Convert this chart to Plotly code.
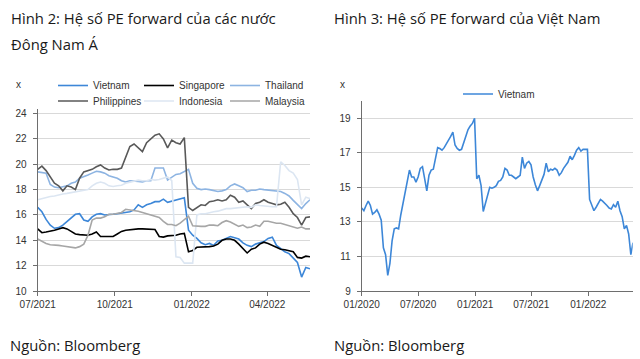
import plotly.graph_objects as go
import pandas as pd

W, H = 640, 359

# ---------------- Data: left chart (every 5 days from 07/2021) ----------------
left_dates = pd.date_range("2021-07-01", periods=66, freq="5D")

vietnam_l = [16.6, 16.25, 15.65, 15.2, 14.95, 15.0, 15.2, 15.5, 15.75, 16.05,
             16.1, 15.6, 15.5, 15.85, 16.05, 16.1, 16.0, 16.0, 16.05, 16.1,
             16.15, 16.25, 16.25, 16.4, 16.8, 16.6, 16.8, 16.9, 17.05, 17.05,
             17.25, 17.0, 17.1, 17.2, 17.25, 17.35, 14.8, 14.4, 14.15, 13.8,
             13.65, 13.75, 13.6, 13.95, 14.0, 14.15, 14.3, 14.2, 14.1, 13.8,
             13.6, 13.5, 13.7, 13.8, 13.9, 14.15, 14.25, 13.6, 13.35, 13.1,
             12.95, 12.6, 12.25, 11.1, 11.85, 11.75]

singapore_l = [14.9, 14.6, 14.65, 14.7, 14.8, 14.9, 15.0, 14.9, 14.7, 14.5,
               14.45, 14.4, 14.4, 14.5, 14.65, 14.3, 14.3, 14.25, 14.3, 14.5,
               14.7, 14.8, 14.85, 14.9, 14.9, 14.9, 14.9, 14.85, 14.85, 14.3,
               14.25, 14.35, 14.35, 14.4, 14.5, 14.55, 13.1, 13.2, 13.45, 13.45,
               13.5, 13.5, 13.55, 13.7, 14.0, 14.1, 14.1, 14.0, 13.7, 13.35,
               13.0, 13.3, 13.4, 13.7, 13.85, 13.75, 13.6, 13.5, 13.3, 13.25,
               13.2, 13.1, 12.65, 12.6, 12.75, 12.7]

thailand_l = [19.4, 19.35, 19.3, 18.4, 18.2, 18.15, 18.2, 18.3, 18.5, 18.6,
              18.9, 19.0, 19.15, 19.3, 19.45, 19.4, 19.3, 19.1, 19.0, 18.9,
              18.7, 18.6, 18.7, 18.7, 18.65, 18.6, 18.7, 18.7, 19.7, 19.7,
              19.7, 18.75, 19.0, 19.2, 19.25, 19.4, 19.6, 18.5, 18.1, 18.0,
              18.05, 18.0, 17.95, 17.85, 17.9, 18.0, 18.3, 18.45, 18.3, 18.15,
              17.85, 17.95, 17.95, 18.05, 18.0, 17.95, 17.95, 17.85, 17.85, 17.7,
              17.5, 17.15, 16.8, 16.5, 16.9, 17.2]

philippines_l = [19.6, 19.85, 19.5, 19.0, 18.5, 18.3, 17.9, 18.3, 18.2, 18.0,
                 18.9, 19.4, 19.5, 19.6, 19.8, 19.95, 19.7, 19.55, 19.6, 19.6,
                 19.7, 20.5, 21.4, 21.6, 21.3, 21.0, 21.7, 22.0, 22.3, 22.4,
                 22.0, 21.3, 21.9, 21.7, 21.6, 22.1, 16.6, 16.35, 16.6, 16.8,
                 16.75, 17.05, 17.1, 17.2, 17.1, 17.2, 17.55, 17.4, 17.0, 17.1,
                 16.8, 16.5, 16.9, 17.0, 17.2, 17.0, 16.9, 16.8, 16.85, 17.0,
                 16.6, 16.1, 15.8, 15.2, 15.8, 15.85]

indonesia_l = [17.2, 17.3, 17.35, 17.45, 17.5, 17.6, 17.65, 17.7, 17.75, 17.8,
               17.85, 17.9, 18.0, 18.3, 18.5, 18.6, 18.5, 18.3, 18.25, 18.3,
               18.35, 18.5, 18.6, 18.7, 18.75, 18.7, 18.7, 18.8, 18.75, 18.8,
               18.9, 19.0, 18.7, 12.7, 12.65, 12.2, 12.2, 12.2, 16.0, 16.1,
               16.1, 16.2, 16.25, 16.3, 16.4, 16.5, 16.5, 16.55, 16.6, 16.6,
               16.65, 16.6, 16.8, 16.75, 16.7, 16.7, 16.65, 16.65, 20.2, 19.9,
               19.5, 19.3, 18.8, 16.8, 17.4, 17.3]

malaysia_l = [14.1, 13.9, 13.75, 13.65, 13.65, 13.6, 13.55, 13.5, 13.45, 13.4,
              13.5, 13.7, 14.4, 15.6, 15.75, 15.75, 15.85, 16.05, 16.05, 16.1,
              16.2, 16.45, 16.4, 16.4, 16.3, 16.2, 16.1, 16.0, 15.9, 15.8,
              15.5, 15.25, 15.25, 15.15, 15.35, 15.65, 15.9, 15.15, 15.1, 15.1,
              15.1, 15.2, 15.2, 15.15, 15.4, 15.55, 15.45, 15.25, 15.1, 15.2,
              15.0, 15.05, 15.2, 15.1, 15.5, 15.5, 15.4, 15.35, 15.35, 15.25,
              15.1, 15.05, 14.95, 15.05, 14.9, 14.9]

# ---------------- Data: right chart (weekly from 01/2020) ----------------
right_dates = pd.date_range("2020-01-01", periods=126, freq="7D")

vietnam_r = [13.8, 13.65, 13.95, 14.2, 13.95, 13.45, 13.55, 13.7, 13.45, 13.1,
             11.5, 11.1, 9.9, 10.6, 11.9, 12.6, 12.65, 12.6, 13.4, 14.0,
             14.75, 15.3, 16.0, 15.6, 15.6, 15.3, 15.6, 16.1, 16.2, 15.5,
             14.8, 15.7, 16.0, 16.05, 16.8, 17.3, 17.25, 17.15, 17.3, 17.5,
             17.75, 17.95, 18.2, 17.45, 17.25, 17.15, 17.2, 17.6, 17.9, 18.35,
             18.55, 18.7, 19.0, 15.5, 15.7, 15.1, 13.6, 14.1, 14.6, 15.0,
             14.95, 15.0, 15.1, 15.35, 15.4, 15.6, 16.1, 16.0, 15.7, 15.7,
             15.6, 15.5, 15.6, 15.7, 16.75, 16.1, 16.4, 16.5, 16.3, 15.6,
             15.15, 14.8, 15.1, 15.4, 15.75, 16.4, 15.9, 16.05, 16.0, 16.1,
             16.0, 15.7, 15.85, 16.1, 16.3, 16.45, 16.8, 16.6, 16.85, 17.15,
             17.3, 17.1, 17.2, 17.2, 17.2, 14.3, 13.95, 13.65, 13.85, 14.05,
             14.3, 14.2, 14.1, 13.95, 13.8, 13.75, 14.0, 13.85, 14.2, 13.65,
             13.3, 12.6, 12.8, 12.3, 11.1, 11.8]

left_tick_vals = ["2021-07-01", "2021-10-01", "2022-01-01", "2022-04-01"]
left_tick_text = ["07/2021", "10/2021", "01/2022", "04/2022"]
right_tick_vals = ["2020-01-01", "2020-07-01", "2021-01-01", "2021-07-01", "2022-01-01"]
right_tick_text = ["01/2020", "07/2020", "01/2021", "07/2021", "01/2022"]
left_y_ticks = [10, 12, 14, 16, 18, 20, 22, 24]
right_y_ticks = [9, 11, 13, 15, 17, 19]

# ---------------- Figure ----------------
fig = go.Figure()

left_series = [
    ("Vietnam", vietnam_l, "#3D87D8", "legend"),
    ("Singapore", singapore_l, "#000000", "legend"),
    ("Thailand", thailand_l, "#8DB4E2", "legend"),
    ("Philippines", philippines_l, "#595959", "legend2"),
    ("Indonesia", indonesia_l, "#DCE6F2", "legend2"),
    ("Malaysia", malaysia_l, "#A6A6A6", "legend2"),
]
for name, vals, col, lg in left_series:
    fig.add_trace(go.Scatter(x=left_dates, y=vals, mode="lines", name=name,
                             line=dict(color=col, width=1.6), legend=lg,
                             xaxis="x", yaxis="y"))

fig.add_trace(go.Scatter(x=right_dates, y=vietnam_r, mode="lines", name="Vietnam",
                         line=dict(color="#3D87D8", width=1.6), legend="legend3",
                         xaxis="x2", yaxis="y2"))

def px(v):
    return v / W

def py(v):
    return 1 - v / H

axis_common = dict(showline=True, linecolor="#6E6E6E", linewidth=1,
                   ticks="outside", ticklen=4, tickcolor="#6E6E6E", automargin=False,
                   tickfont=dict(family="Liberation Sans", size=10, color="#333333"))

legend_font = dict(family="Liberation Sans", size=10, color="#333333")

fig.update_layout(
    width=W, height=H,
    margin=dict(l=0, r=0, t=0, b=0, autoexpand=False),
    paper_bgcolor="white", plot_bgcolor="white",
    xaxis=dict(domain=[px(37.7), px(310)], type="date",
               range=["2021-07-01", "2022-05-22"],
               tickvals=left_tick_vals, ticktext=left_tick_text,
               showgrid=False, anchor="y", **axis_common),
    yaxis=dict(domain=[py(291), py(108.5)], range=[10, 24.4],
               tickvals=left_y_ticks, showgrid=True, gridcolor="#D9D9D9",
               gridwidth=1, anchor="x", ticklabelstandoff=4, **axis_common),
    xaxis2=dict(domain=[px(361.7), px(632.7)], type="date",
                range=["2020-01-01", "2022-05-24"],
                tickvals=right_tick_vals, ticktext=right_tick_text,
                showgrid=False, anchor="y2", **axis_common),
    yaxis2=dict(domain=[py(291), py(101)], range=[9, 20],
                tickvals=right_y_ticks, showgrid=True, gridcolor="#D9D9D9",
                gridwidth=1, anchor="x2", ticklabelstandoff=4, **axis_common),
    showlegend=True,
    legend=dict(orientation="h", x=px(53), y=py(85.5), xanchor="left", yanchor="middle",
                entrywidth=41, entrywidthmode="pixels", font=legend_font,
                bgcolor="rgba(0,0,0,0)", itemwidth=30),
    legend2=dict(orientation="h", x=px(53), y=py(101), xanchor="left", yanchor="middle",
                 entrywidth=41, entrywidthmode="pixels", font=legend_font,
                 bgcolor="rgba(0,0,0,0)", itemwidth=30),
    legend3=dict(orientation="h", x=px(458), y=py(94), xanchor="left", yanchor="middle",
                 font=legend_font, bgcolor="rgba(0,0,0,0)", itemwidth=30),
)

title_font = dict(family="Open Sans", size=14.8, color="#1A1A1A")
small_font = dict(family="Liberation Sans", size=10, color="#333333")
texts = [
    ("Hình 2: Hệ số PE forward của các nước", 9, 18, title_font),
    ("Đông Nam Á", 9, 44, title_font),
    ("Hình 3: Hệ số PE forward của Việt Nam", 332, 18, title_font),
    ("Nguồn: Bloomberg", 8, 345, title_font),
    ("Nguồn: Bloomberg", 332, 345, title_font),
    ("x", 14, 84, small_font),
    ("x", 338, 84, small_font),
]
for t, x, y, f in texts:
    fig.add_annotation(text=t, x=px(x), y=py(y), xref="paper", yref="paper",
                       xanchor="left", yanchor="middle", showarrow=False, font=f)

fig.write_html("out.html",
               config={"displayModeBar": False},
               post_script="document.body.style.margin='0';document.body.style.padding='0';")
